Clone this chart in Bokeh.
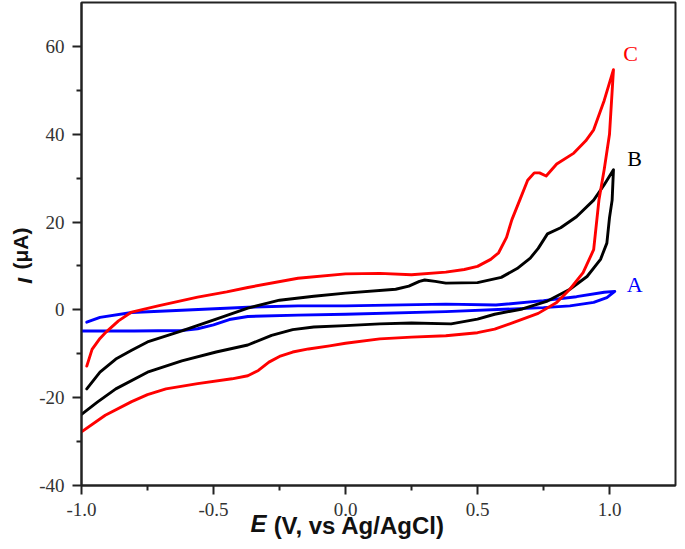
from bokeh.plotting import figure
from bokeh.models import Range1d, FixedTicker, Label, LinearAxis
from bokeh.embed import file_html
from bokeh.resources import INLINE

# ---- data (E in V vs Ag/AgCl, I in uA) ----
# Curve A (blue): forward then reverse scan
a_e = [-0.98, -0.93, -0.81, -0.62, -0.37, -0.18, 0.0, 0.38, 0.57, 0.75, 0.875, 0.98, 1.02,
       0.99, 0.94, 0.85, 0.75, 0.38, 0.0, -0.18, -0.37, -0.44, -0.50, -0.56, -0.62, -0.8, -1.0]
a_i = [-2.8, -1.7, -0.6, -0.1, 0.6, 0.9, 0.9, 1.3, 1.1, 2.1, 3.0, 4.0, 4.2,
       2.8, 1.7, 0.9, 0.5, -0.4, -1.0, -1.2, -1.5, -2.2, -3.4, -4.3, -4.7, -4.8, -4.8]

# Curve B (black)
b_e = [-0.98, -0.93, -0.87, -0.81, -0.75, -0.62, -0.49, -0.37, -0.25, -0.12, 0.0, 0.19, 0.24,
       0.28, 0.30, 0.34, 0.38, 0.5, 0.59, 0.65, 0.70, 0.73, 0.765, 0.815, 0.875, 0.94, 0.98, 1.015,
       1.01, 1.0, 0.99, 0.966, 0.915, 0.85, 0.765, 0.67, 0.565, 0.5, 0.40, 0.25, 0.13, 0.0,
       -0.12, -0.20, -0.28, -0.37, -0.49, -0.62, -0.75, -0.87, -0.94, -1.0]
b_i = [-18.0, -14.2, -11.2, -9.2, -7.3, -4.8, -2.1, 0.4, 2.2, 3.1, 3.8, 4.7, 5.4,
       6.5, 6.8, 6.5, 6.1, 6.2, 7.4, 9.4, 11.8, 14.0, 17.3, 18.7, 21.2, 25.0, 28.5, 31.9,
       25.0, 21.0, 15.2, 11.5, 7.6, 4.7, 2.0, 0.2, -1.0, -2.1, -3.2, -3.0, -3.2, -3.6,
       -3.9, -4.5, -5.8, -8.0, -9.6, -11.6, -14.2, -18.0, -21.0, -23.8]

# Curve C (red)
c_e = [-0.98, -0.96, -0.93, -0.906, -0.86, -0.81, -0.71, -0.56, -0.45, -0.37, -0.18, 0.0, 0.13,
       0.25, 0.38, 0.45, 0.5, 0.55, 0.58, 0.61, 0.63, 0.66, 0.69, 0.715, 0.735, 0.76, 0.80,
       0.865, 0.91, 0.94, 0.98, 1.015,
       1.0, 0.98, 0.96, 0.94, 0.90, 0.85, 0.80, 0.73, 0.64, 0.565, 0.5, 0.38, 0.25, 0.13, 0.0,
       -0.06, -0.14, -0.20, -0.25, -0.29, -0.33, -0.37, -0.43, -0.56, -0.68, -0.75, -0.81,
       -0.91, -1.0]
c_i = [-12.8, -9.0, -6.5, -5.0, -2.5, -0.5, 0.9, 2.9, 4.1, 5.1, 7.2, 8.2, 8.3,
       8.0, 8.6, 9.2, 9.9, 11.5, 13.0, 16.5, 20.5, 25.0, 29.5, 31.2, 31.2, 30.5, 33.2,
       35.7, 38.5, 41.0, 47.7, 54.7,
       40.0, 32.0, 25.0, 13.7, 8.5, 4.7, 1.7, -0.8, -2.8, -4.4, -5.2, -5.9, -6.2, -6.6, -7.6,
       -8.2, -8.9, -9.6, -10.6, -11.9, -13.8, -15.0, -15.7, -16.8, -18.0, -19.3, -20.9,
       -24.0, -27.8]

curve_names = ["A", "B", "C"]
curve_colors = ["#0000ff", "#000000", "#ff0000"]
name_e = [1.095, 1.095, 1.08]
name_i = [5.8, 34.4, 58.4]

x_major = [-1.0, -0.5, 0.0, 0.5, 1.0]
x_minor = [-0.75, -0.25, 0.25, 0.75]
x_tick_labels = ["-1.0", "-0.5", "0.0", "0.5", "1.0"]
y_major = [-40, -20, 0, 20, 40, 60]
y_minor = [-30, -10, 10, 30, 50]
y_tick_labels = ["-40", "-20", "0", "20", "40", "60"]

x_title_symbol = "E"
x_title_unit = "(V, vs Ag/AgCl)"
y_title_symbol = "I"
y_title_unit = "(\u03bcA)"

p = figure(width=677, height=541, output_backend="svg", toolbar_location=None,
           x_range=Range1d(-1.0, 1.25), y_range=Range1d(-40, 70),
           min_border_left=81, min_border_right=2, min_border_top=2, min_border_bottom=40)
p.grid.visible = False
p.outline_line_color = "#222222"
p.outline_line_width = 2
p.background_fill_color = "white"
p.border_fill_color = "white"

p.xaxis.ticker = FixedTicker(ticks=x_major, minor_ticks=x_minor)
p.yaxis.ticker = FixedTicker(ticks=y_major, minor_ticks=y_minor)
p.xaxis.major_label_overrides = {v: s for v, s in zip(x_major, x_tick_labels)}
p.yaxis.major_label_overrides = {v: s for v, s in zip(y_major, y_tick_labels)}

for ax in (p.xaxis, p.yaxis):
    ax.axis_line_width = 2
    ax.axis_line_color = "#222222"
    ax.major_tick_line_width = 2
    ax.minor_tick_line_width = 2
    ax.major_tick_line_color = "#222222"
    ax.minor_tick_line_color = "#222222"
    ax.major_tick_out = 9
    ax.major_tick_in = 0
    ax.minor_tick_out = 5
    ax.minor_tick_in = 0
    ax.major_label_text_font = "Liberation Serif"
    ax.major_label_text_font_size = "19px"
    ax.major_label_text_color = "#333333"

p.xaxis.major_label_standoff = 8
p.yaxis.major_label_standoff = 8


def title_axis(pos, text, style, size, standoff, orientation="horizontal"):
    ax = LinearAxis(ticker=FixedTicker(ticks=[pos], minor_ticks=[]),
                    major_label_overrides={pos: text})
    ax.axis_line_color = None
    ax.major_tick_line_color = None
    ax.minor_tick_line_color = None
    ax.major_tick_out = 0
    ax.major_tick_in = 0
    ax.minor_tick_out = 0
    ax.minor_tick_in = 0
    ax.major_label_text_font = "Liberation Sans"
    ax.major_label_text_font_style = style
    ax.major_label_text_font_size = size
    ax.major_label_text_color = "#111111"
    ax.major_label_standoff = standoff
    ax.major_label_orientation = orientation
    return ax


# x title: italic symbol + bold unit text on one line
p.add_layout(title_axis(-0.3295, x_title_symbol, "bold italic", "24px", -9), "below")
p.add_layout(title_axis(0.0519, x_title_unit, "bold", "24px", -28), "below")
# y title: unit text, then italic symbol in the same column
p.add_layout(title_axis(13.95, y_title_unit, "bold", "21px", 4, "parallel"), "left")
p.add_layout(title_axis(6.6, y_title_symbol, "bold italic", "21px", -30, "parallel"), "left")

curves = [(a_e, a_i), (b_e, b_i), (c_e, c_i)]
for (ex, iy), col in zip(curves, curve_colors):
    p.line(ex, iy, line_color=col, line_width=2.9, line_join="round", line_cap="round")

for nm, col, xe, yi in zip(curve_names, curve_colors, name_e, name_i):
    p.add_layout(Label(x=xe, y=yi, text=nm, text_color=col, text_font="Liberation Serif",
                       text_font_size="22px", text_align="center", text_baseline="middle"))

open("out.html", "w").write(file_html(p, INLINE))
